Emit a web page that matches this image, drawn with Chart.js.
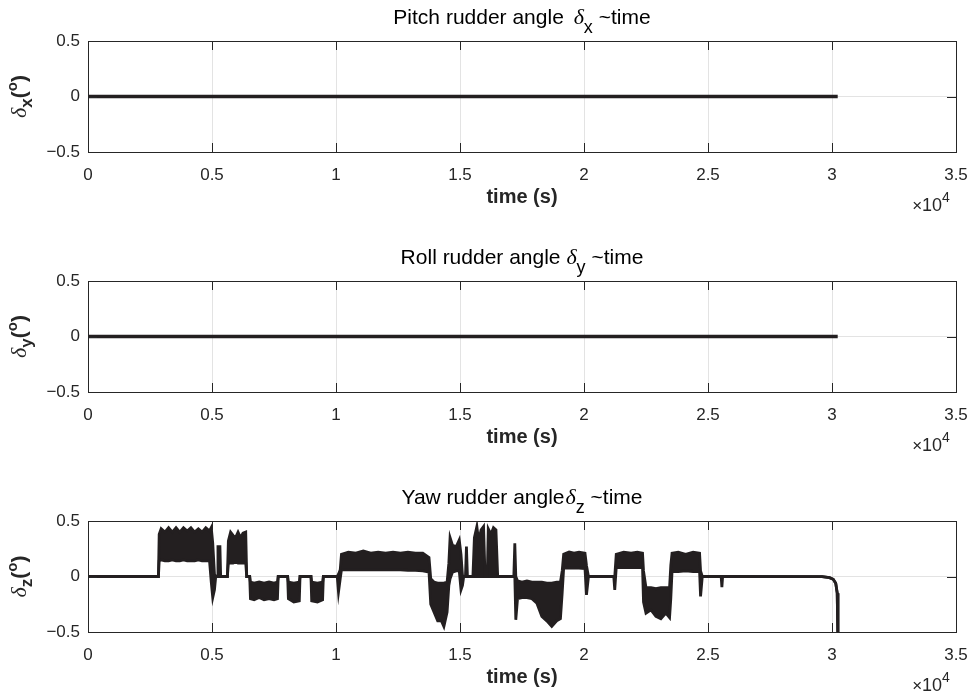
<!DOCTYPE html>
<html>
<head>
<meta charset="utf-8">
<script src="https://cdn.jsdelivr.net/npm/chart.js@4/dist/chart.umd.min.js"></script>
<style>
body { margin: 0; background: #fff; }
#wrap { position: relative; width: 975px; height: 697px; }
canvas { position: absolute; left: 0; }
</style>
</head>
<body>
<div id="wrap">
<canvas id="chart1" width="975" height="217" style="top:0px"></canvas>
<canvas id="chart2" width="975" height="217" style="top:240px"></canvas>
<canvas id="chart3" width="975" height="217" style="top:480px"></canvas>
</div>
<script>
// rudder angles vs time, time is in units of 1e4 s (axis shows x10^4)

var xTicks = [0, 0.5, 1, 1.5, 2, 2.5, 3, 3.5];
var yTicks = [-0.5, 0, 0.5];

// pitch and roll stay at zero for the whole run
var pitchTime = [0, 3.023];
var pitchAngle = [0, 0];
var rollTime = [0, 3.023];
var rollAngle = [0, 0];

// yaw: the signal chatters fast, so it is kept as upper / lower envelope
var yawTime = [0, 0.284, 0.287, 0.295, 0.31, 0.325, 0.34, 0.355, 0.37, 0.385, 0.40, 0.415, 0.43, 0.445, 0.46, 0.475, 0.49,
    0.497, 0.503, 0.51, 0.515, 0.522, 0.524, 0.532, 0.535, 0.562, 0.566, 0.575, 0.585, 0.595, 0.605, 0.615, 0.625, 0.636,
    0.64, 0.652, 0.655, 0.67, 0.69, 0.71, 0.73, 0.75, 0.764, 0.767, 0.805, 0.808, 0.83, 0.852, 0.855, 0.899, 0.902, 0.925,
    0.946, 0.949, 1.005, 1.01, 1.017, 1.022, 1.05, 1.08, 1.11, 1.14, 1.17, 1.20, 1.23, 1.26, 1.29, 1.32, 1.35, 1.375,
    1.382, 1.395, 1.41, 1.425, 1.435, 1.448, 1.455, 1.46, 1.47, 1.485, 1.497, 1.504, 1.51, 1.515, 1.522, 1.526, 1.53,
    1.552, 1.558, 1.568, 1.575, 1.585, 1.595, 1.601, 1.61, 1.614, 1.625, 1.635, 1.645, 1.652, 1.717, 1.721, 1.725,
    1.732, 1.75, 1.77, 1.79, 1.81, 1.83, 1.85, 1.87, 1.89, 1.905, 1.912, 1.918, 1.94, 1.96, 1.98, 2.004, 2.01, 2.018,
    2.12, 2.124, 2.13, 2.16, 2.19, 2.215, 2.236, 2.24, 2.25, 2.27, 2.29, 2.31, 2.33, 2.345, 2.35, 2.355, 2.38, 2.41,
    2.44, 2.466, 2.47, 2.477, 2.553, 2.556, 2.559, 2.96, 2.99, 3.005, 3.015, 3.021, 3.024];
var yawUpper = [0, 0, 0.38, 0.43, 0.40, 0.44, 0.40, 0.44, 0.40, 0.44, 0.41, 0.44, 0.40, 0.43, 0.40, 0.44, 0.41,
    0.44, 0.30, 0.02, 0, 0, 0.27, 0.27, 0, 0, 0.32, 0.40, 0.37, 0.35, 0.40, 0.35, 0.39, 0.40,
    0, 0, -0.05, -0.06, -0.05, -0.06, -0.05, -0.06, -0.05, 0, 0, -0.05, -0.06, -0.05, 0, 0, -0.05, -0.06,
    -0.05, 0, 0, 0.02, 0.06, 0.20, 0.22, 0.21, 0.23, 0.21, 0.22, 0.21, 0.22, 0.21, 0.22, 0.21, 0.21, 0.17,
    -0.02, -0.05, -0.06, -0.06, -0.06, -0.05, 0.12, 0.35, 0.28, 0.27, 0.33, 0.20, 0.01, 0, 0, 0.27, 0,
    0, 0.35, 0.45, 0.32, 0.42, 0.45, 0, 0, 0.43, 0.38, 0.44, 0.42, 0, 0, 0.30, 0,
    -0.04, -0.05, -0.04, -0.05, -0.05, -0.05, -0.06, -0.06, -0.05, -0.05, 0.05, 0.20, 0.22, 0.21, 0.22, 0.21, 0.10, 0,
    0, 0, 0.20, 0.22, 0.21, 0.22, 0.21, 0.05, -0.10, -0.10, -0.11, -0.10, -0.10, -0.10, 0.10, 0.21, 0.22, 0.20,
    0.22, 0.21, 0.05, 0, 0, 0, 0, -0.002, -0.01, -0.025, -0.06, -0.15, -0.6];
var yawLower = [0, 0, 0.14, 0.15, 0.14, 0.14, 0.15, 0.14, 0.14, 0.15, 0.14, 0.14, 0.14, 0.15, 0.14, 0.14, 0.14,
    -0.05, -0.19, -0.12, 0, 0, 0, 0, 0, 0, 0.12, 0.12, 0.12, 0.13, 0.12, 0.12, 0.12, 0.12,
    0, 0, -0.20, -0.21, -0.19, -0.21, -0.20, -0.21, -0.20, 0, 0, -0.20, -0.23, -0.22, 0, 0, -0.22, -0.23,
    -0.21, 0, 0, -0.14, -0.02, 0.06, 0.06, 0.06, 0.06, 0.06, 0.06, 0.06, 0.06, 0.06, 0.055, 0.055, 0.05, 0.04,
    -0.25, -0.32, -0.40, -0.40, -0.45, -0.32, -0.08, -0.02, 0.04, 0.05, 0.05, -0.12, -0.08, 0, 0, 0, 0,
    0, 0, 0, 0, 0, 0, 0, 0, 0, 0, 0, 0, 0, 0, 0, -0.39,
    -0.20, -0.19, -0.19, -0.20, -0.24, -0.36, -0.40, -0.45, -0.40, -0.38, -0.15, 0.075, 0.075, 0.075, 0.075, 0.07, -0.165, 0,
    0, -0.12, 0.08, 0.08, 0.08, 0.08, 0.08, -0.23, -0.33, -0.30, -0.36, -0.38, -0.33, -0.37, -0.20, 0.045, 0.045, 0.05,
    0.045, 0.045, -0.18, 0, 0, -0.095, 0, -0.002, -0.01, -0.025, -0.06, -0.15, -0.6];

var lineColor = '#231f20';
var axisColor = '#262626';
var sans = '"Liberation Sans", Arial, sans-serif';

function toPoints(xs, ys) {
    var pts = [];
    for (var i = 0; i < xs.length; i++) {
        pts.push({ x: xs[i], y: ys[i] });
    }
    return pts;
}

// draws a row of text pieces (for sub/superscripts), centred on x
function drawRich(ctx, parts, x, y) {
    var total = 0;
    parts.forEach(function (p) {
        ctx.font = p.font;
        p.w = ctx.measureText(p.text).width + (p.dx || 0);
        total += p.w;
    });
    var cx = x - total / 2;
    parts.forEach(function (p) {
        ctx.font = p.font;
        ctx.fillText(p.text, cx + (p.dx || 0), y + (p.dy || 0));
        cx += p.w;
    });
}

var matlabAxes = {
    id: 'matlabAxes',
    afterDraw: function (chart) {
        var ctx = chart.ctx;
        var a = chart.chartArea;
        var xs = chart.scales.x;
        var ys = chart.scales.y;
        var opts = chart.options.plugins.matlabAxes;
        var tl = 9;
        ctx.save();
        ctx.strokeStyle = axisColor;
        ctx.lineWidth = 1;
        ctx.beginPath();
        xs.ticks.forEach(function (t) {
            var px = Math.round(xs.getPixelForValue(t.value)) + 0.5;
            ctx.moveTo(px, a.top); ctx.lineTo(px, a.top + tl);
            ctx.moveTo(px, a.bottom); ctx.lineTo(px, a.bottom - tl);
        });
        ys.ticks.forEach(function (t) {
            var py = Math.round(ys.getPixelForValue(t.value)) + 0.5;
            ctx.moveTo(a.left, py); ctx.lineTo(a.left + tl, py);
            ctx.moveTo(a.right, py); ctx.lineTo(a.right - tl, py);
        });
        ctx.stroke();
        ctx.strokeRect(Math.round(a.left) + 0.5, Math.round(a.top) + 0.5,
            Math.round(a.right - a.left), Math.round(a.bottom - a.top));

        var midX = (a.left + a.right) / 2;
        var midY = (a.top + a.bottom) / 2;
        ctx.textBaseline = 'alphabetic';

        // title
        ctx.fillStyle = '#000';
        drawRich(ctx, opts.title, midX, 24);

        // x label and exponent
        ctx.fillStyle = axisColor;
        drawRich(ctx, [{ text: 'time (s)', font: 'bold 20px ' + sans }], midX, a.bottom + 51);
        drawRich(ctx, [
            { text: '\u00d7', font: '17px ' + sans },
            { text: '10', font: '18px ' + sans },
            { text: '4', font: '14px ' + sans, dy: -9 }
        ], a.right - 25, a.bottom + 59);

        // y label, rotated
        ctx.translate(26, midY);
        ctx.rotate(-Math.PI / 2);
        drawRich(ctx, opts.ylabel, 0, 0);
        ctx.restore();
    }
};

function makeChart(id, datasets, title, ylabel) {
    var ctx = document.getElementById(id).getContext('2d');
    return new Chart(ctx, {
        type: 'line',
        data: { datasets: datasets },
        options: {
            responsive: false,
            animation: false,
            events: [],
            layout: { padding: { top: 41, right: 19, left: 0, bottom: 0 } },
            plugins: {
                legend: { display: false },
                tooltip: { enabled: false },
                matlabAxes: { title: title, ylabel: ylabel }
            },
            elements: { point: { radius: 0 }, line: { tension: 0 } },
            scales: {
                x: {
                    type: 'linear',
                    min: 0,
                    max: 3.5,
                    afterFit: function (s) { s.height = 65; s.paddingLeft = 0; s.paddingRight = 0; },
                    afterBuildTicks: function (s) { s.ticks = xTicks.map(function (v) { return { value: v }; }); },
                    ticks: {
                        padding: 13,
                        color: axisColor,
                        font: { family: sans, size: 17 },
                        maxRotation: 0,
                        callback: function (v) { return String(v); }
                    },
                    grid: { color: '#e3e3e3', drawTicks: false },
                    border: { display: false }
                },
                y: {
                    min: -0.5,
                    max: 0.5,
                    afterFit: function (s) { s.width = 88; s.paddingTop = 0; s.paddingBottom = 0; },
                    afterBuildTicks: function (s) { s.ticks = yTicks.map(function (v) { return { value: v }; }); },
                    ticks: {
                        padding: 8,
                        color: axisColor,
                        font: { family: sans, size: 17 },
                        callback: function (v) { return v < 0 ? '\u2212' + Math.abs(v) : String(v); }
                    },
                    grid: { color: '#e3e3e3', drawTicks: false },
                    border: { display: false }
                }
            }
        },
        plugins: [matlabAxes]
    });
}

function titleParts(name, sub, gap) {
    var f = '21px ' + sans;
    return [
        { text: name, font: f },
        { text: '\u03b4', font: 'italic 22px "Liberation Serif", serif', dx: gap },
        { text: sub, font: '18px ' + sans, dy: 9 },
        { text: ' ~time', font: f }
    ];
}

function ylabelParts(sub) {
    var b = 'bold 21px ' + sans;
    return [
        { text: '\u03b4', font: 'italic 22px "Liberation Serif", serif' },
        { text: sub, font: 'bold 17px ' + sans, dy: 6 },
        { text: '(', font: b },
        { text: 'o', font: 'bold 15px ' + sans, dy: -9 },
        { text: ')', font: b }
    ];
}

window.onload = function () {
    makeChart('chart1', [{
        data: toPoints(pitchTime, pitchAngle),
        borderColor: lineColor,
        borderWidth: 3.5,
        fill: false
    }], titleParts('Pitch rudder angle ', 'x', 4), ylabelParts('x'));

    makeChart('chart2', [{
        data: toPoints(rollTime, rollAngle),
        borderColor: lineColor,
        borderWidth: 3.5,
        fill: false
    }], titleParts('Roll rudder angle ', 'y', 0), ylabelParts('y'));

    makeChart('chart3', [{
        data: toPoints(yawTime, yawUpper),
        borderColor: lineColor,
        borderWidth: 2.8,
        fill: false
    }, {
        data: toPoints(yawTime, yawLower),
        borderColor: lineColor,
        backgroundColor: lineColor,
        borderWidth: 2.8,
        fill: '-1'
    }], titleParts('Yaw rudder angle', 'z', 1), ylabelParts('z'));
};
</script>
</body>
</html>
